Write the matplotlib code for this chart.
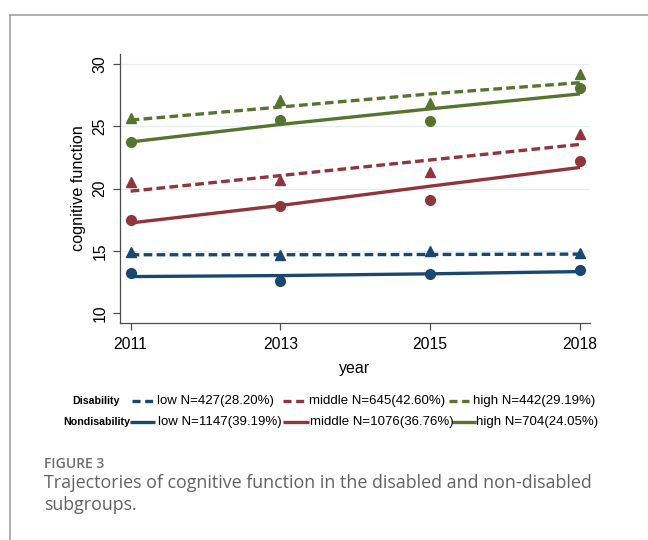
import matplotlib.pyplot as plt
from matplotlib.lines import Line2D

# survey waves (plotted as equally spaced categories)
waves = ['2011', '2013', '2015', '2018']

# observed group means, disabled subgroup
dis_low = [14.9, 14.7, 14.97, 14.83]
dis_mid = [20.5, 20.7, 21.3, 24.4]
dis_high = [25.7, 27.1, 26.86, 29.2]

# observed group means, non-disabled subgroup
non_low = [13.2, 12.6, 13.17, 13.44]
non_mid = [17.5, 18.6, 19.1, 22.2]
non_high = [23.75, 25.5, 25.4, 28.1]

# fitted trajectories
fit_dis_low = [14.7, 14.7, 14.72, 14.75]
fit_dis_mid = [19.8, 21.05, 22.3, 23.55]
fit_dis_high = [25.5, 26.55, 27.6, 28.5]
fit_non_low = [12.95, 13.03, 13.17, 13.35]
fit_non_mid = [17.25, 18.65, 20.2, 21.7]
fit_non_high = [23.75, 25.15, 26.4, 27.6]

dis_labels = ['low N=427(28.20%)', 'middle N=645(42.60%)', 'high N=442(29.19%)']
non_labels = ['low N=1147(39.19%)', 'middle N=1076(36.76%)', 'high N=704(24.05%)']

navy = '#1a476f'
maroon = '#90353b'
green = '#55752f'
colors = [navy, maroon, green]

plt.rcParams['font.family'] = ['Liberation Sans', 'DejaVu Sans']

W, H = 648, 540
fig = plt.figure(figsize=(W / 100, H / 100), dpi=100)

# page frame (left and top rules)
fig.add_artist(Line2D([9.5 / W, 9.5 / W], [0, 1 - 14.5 / H], color='#9a9a9a', lw=1.1))
fig.add_artist(Line2D([9.5 / W, 1], [1 - 14.5 / H, 1 - 14.5 / H], color='#9a9a9a', lw=1.1))

ax = fig.add_axes([120 / W, 1 - 322.7 / H, 470 / W, (322.7 - 53.5) / H])
x = list(range(len(waves)))

lw = 2.4
dash = (2.6, 1.3)
for obs, c in zip([dis_low, dis_mid, dis_high], colors):
    ax.plot(x, obs, ls='none', marker='^', ms=7, color=c, zorder=3)
for obs, c in zip([non_low, non_mid, non_high], colors):
    ax.plot(x, obs, ls='none', marker='o', ms=7, color=c, zorder=3)
for fit, c in zip([fit_dis_low, fit_dis_mid, fit_dis_high], colors):
    ax.plot(x, fit, color=c, lw=lw, dashes=dash, zorder=4)
for fit, c in zip([fit_non_low, fit_non_mid, fit_non_high], colors):
    ax.plot(x, fit, color=c, lw=lw, solid_capstyle='butt', zorder=4)

ax.set_xlim(-0.071, 3.067)
ax.set_ylim(9.25, 30.84)
ax.set_xticks(x)
ax.set_xticklabels(waves)
ax.set_yticks([10, 15, 20, 25, 30])
ax.set_yticklabels(['10', '15', '20', '25', '30'], rotation=90, va='center')
ax.tick_params(axis='both', length=5, width=0.9, color='#4d4d4d', labelsize=11.3, labelcolor='black')
ax.tick_params(axis='x', pad=5)
ax.tick_params(axis='y', pad=4)
for y in [15, 20, 25, 30]:
    ax.axhline(y, color='#e6eef0', lw=0.9, zorder=0)

for s in ['top', 'right']:
    ax.spines[s].set_visible(False)
for s in ['left', 'bottom']:
    ax.spines[s].set_color('#4d4d4d')
    ax.spines[s].set_linewidth(0.9)

ax.set_xlabel('year', fontsize=11.5, labelpad=7)
ax.set_ylabel('cognitive function', fontsize=11.7)
ax.yaxis.set_label_coords((86 - 120) / 470, 0.5)

# two-row legend drawn by hand, one row per subgroup
def fx(px):
    return px / W

def fy(py):
    return 1 - py / H

row1, row2 = 401, 422
fig.text(fx(120), fy(row1), 'Disability', fontsize=7.7, fontweight='bold', ha='right', va='center')
fig.text(fx(130), fy(row2), 'Nondisability', fontsize=7.7, fontweight='bold', ha='right', va='center')

dis_handles = [(132, 154), (283, 305), (449, 469)]
dis_text = [157, 309, 473]
non_handles = [(130, 155), (283, 309), (452, 476)]
non_text = [158, 310, 476]

for (a, b), tx, lab, c in zip(dis_handles, dis_text, dis_labels, colors):
    fig.add_artist(Line2D([fx(a), fx(b)], [fy(row1), fy(row1)], color=c, lw=2.4, dashes=(2.4, 1.4)))
    fig.text(fx(tx), fy(row1), lab, fontsize=9.5, ha='left', va='center')
for (a, b), tx, lab, c in zip(non_handles, non_text, non_labels, colors):
    fig.add_artist(Line2D([fx(a), fx(b)], [fy(row2), fy(row2)], color=c, lw=2.4, solid_capstyle='butt'))
    fig.text(fx(tx), fy(row2), lab, fontsize=9.5, ha='left', va='center')

# figure caption
fig.text(fx(44), fy(468), 'FIGURE 3', fontsize=10, color='#6e6e6e', family='Open Sans',
         fontweight='semibold', ha='left', va='baseline')
fig.text(fx(44), fy(488), 'Trajectories of cognitive function in the disabled and non-disabled',
         fontsize=12.9, color='#626262', family='Open Sans', ha='left', va='baseline')
fig.text(fx(44), fy(510), 'subgroups.', fontsize=12.9, color='#626262', family='Open Sans',
         ha='left', va='baseline')

fig.savefig('out.png', dpi=100)
